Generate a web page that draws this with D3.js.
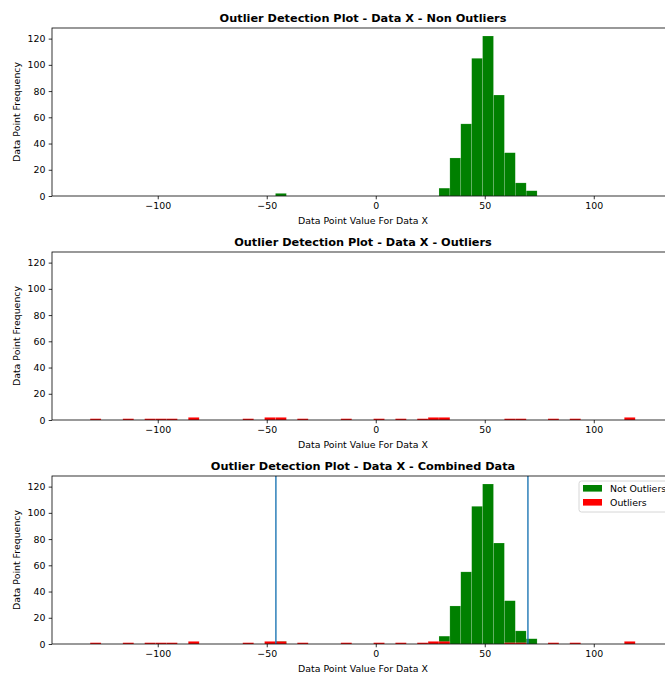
<!DOCTYPE html>
<html lang="en">
<head>
    <meta charset="UTF-8">
    <title>Outlier Detection Plot - Data X</title>
    <script src="https://d3js.org/d3.v7.min.js"></script>
    <style>
        body { margin: 0; background: #fff; }
        text { font-family: "DejaVu Sans", sans-serif; fill: #000; }
    </style>
</head>
<body>
<script>
    // Histogram bins (left edge of each bin, data units) and counts
    const binWidth = 5;
    const inlierStarts = [-46, 29, 34, 39, 44, 49, 54, 59, 64, 69];
    const inlierCounts = [2, 6, 29, 55, 105, 122, 77, 33, 10, 4];
    const outlierStarts = [-131, -116, -106, -101, -96, -86, -61, -51, -46, -36, -16, -1, 9, 19, 24, 29, 59, 64, 79, 89, 114];
    const outlierCounts = [1, 1, 1, 1, 1, 2, 1, 2, 2, 1, 1, 1, 1, 1, 2, 2, 1, 1, 1, 1, 2];

    // Lower / upper outlier bounds drawn on the combined plot
    const fences = [-45.8, 69.8];

    const xTicks = [-100, -50, 0, 50, 100];
    const yTicks = [0, 20, 40, 60, 80, 100, 120];
    const xDomain = [-148.5, 136.8];
    const yDomain = [0, 128.1];

    const titles = [
        "Outlier Detection Plot - Data X - Non Outliers",
        "Outlier Detection Plot - Data X - Outliers",
        "Outlier Detection Plot - Data X - Combined Data"
    ];
    const legendLabels = ["Not Outliers", "Outliers"];

    const inliers = inlierStarts.map((s, i) => ({start: s, count: inlierCounts[i]}));
    const outliers = outlierStarts.map((s, i) => ({start: s, count: outlierCounts[i]}));

    const W = 665, H = 675;
    const left = 52, right = 674;
    const tops = [28, 252, 476];
    const plotH = 168;
    const fs = 9.4;

    const svg = d3.select("body")
                  .append("svg")
                  .attr("width", W)
                  .attr("height", H);

    const x = d3.scaleLinear().domain(xDomain).range([left, right]);
    const fmt = d => d < 0 ? "\u2212" + Math.abs(d) : String(d);

    function drawBars(g, y, data, color) {
        g.append("g")
         .selectAll("rect")
         .data(data)
         .enter()
         .append("rect")
         .attr("x", d => x(d.start))
         .attr("width", d => x(d.start + binWidth) - x(d.start))
         .attr("y", d => y(d.count))
         .attr("height", d => y(0) - y(d.count))
         .attr("fill", color)
         .attr("stroke", "#fff")
         .attr("stroke-opacity", 0.3)
         .attr("stroke-width", 0.5);
    }

    tops.forEach((top, p) => {
        const bottom = top + plotH;
        const y = d3.scaleLinear().domain(yDomain).range([bottom, top]);
        const g = svg.append("g");

        if (p === 0 || p === 2) drawBars(g, y, inliers, "#008000");
        if (p === 1 || p === 2) drawBars(g, y, outliers, "#ff0000");

        if (p === 2) {
            g.selectAll("line.fence")
             .data(fences)
             .enter()
             .append("line")
             .attr("class", "fence")
             .attr("x1", d => x(d)).attr("x2", d => x(d))
             .attr("y1", top).attr("y2", bottom)
             .attr("stroke", "#1f77b4")
             .attr("stroke-width", 1.4);
        }

        // axes
        const xAxis = g.append("g")
                       .attr("transform", `translate(0,${bottom})`)
                       .call(d3.axisBottom(x).tickValues(xTicks).tickFormat(fmt).tickSize(3.3).tickPadding(3.3));
        const yAxis = g.append("g")
                       .attr("transform", `translate(${left},0)`)
                       .call(d3.axisLeft(y).tickValues(yTicks).tickSize(3.3).tickPadding(3.3));
        [xAxis, yAxis].forEach(a => {
            a.select(".domain").remove();
            a.selectAll("text").attr("font-size", fs).attr("font-family", "DejaVu Sans").attr("fill", "#000");
            a.selectAll("line").attr("stroke", "#000").attr("stroke-width", 0.8);
        });

        // frame
        g.append("rect")
         .attr("x", left).attr("y", top)
         .attr("width", right - left).attr("height", plotH)
         .attr("fill", "none")
         .attr("stroke", "#000")
         .attr("stroke-width", 0.8);

        // title and labels
        g.append("text")
         .attr("x", (left + right) / 2)
         .attr("y", top - 6)
         .attr("text-anchor", "middle")
         .attr("font-size", 11.3)
         .attr("font-weight", "bold")
         .text(titles[p]);

        g.append("text")
         .attr("x", (left + right) / 2)
         .attr("y", bottom + 28)
         .attr("text-anchor", "middle")
         .attr("font-size", fs)
         .text("Data Point Value For Data X");

        g.append("text")
         .attr("transform", `translate(19.5,${top + plotH / 2}) rotate(-90)`)
         .attr("text-anchor", "middle")
         .attr("font-size", fs)
         .text("Data Point Frequency");

        if (p === 2) {
            const lg = g.append("g").attr("transform", `translate(579,${top + 5})`);
            lg.append("rect")
              .attr("width", 92).attr("height", 31)
              .attr("rx", 2.5)
              .attr("fill", "#fff").attr("fill-opacity", 0.8)
              .attr("stroke", "#ccc").attr("stroke-width", 0.8);
            lg.selectAll("rect.key")
              .data(legendLabels)
              .enter()
              .append("rect")
              .attr("class", "key")
              .attr("x", 4)
              .attr("y", (d, i) => 4 + i * 14)
              .attr("width", 19)
              .attr("height", 6.6)
              .attr("fill", (d, i) => i === 0 ? "#008000" : "#ff0000");
            lg.selectAll("text")
              .data(legendLabels)
              .enter()
              .append("text")
              .attr("x", 31)
              .attr("y", (d, i) => 10.8 + i * 14)
              .attr("font-size", fs)
              .text(d => d);
        }
    });
</script>
</body>
</html>
